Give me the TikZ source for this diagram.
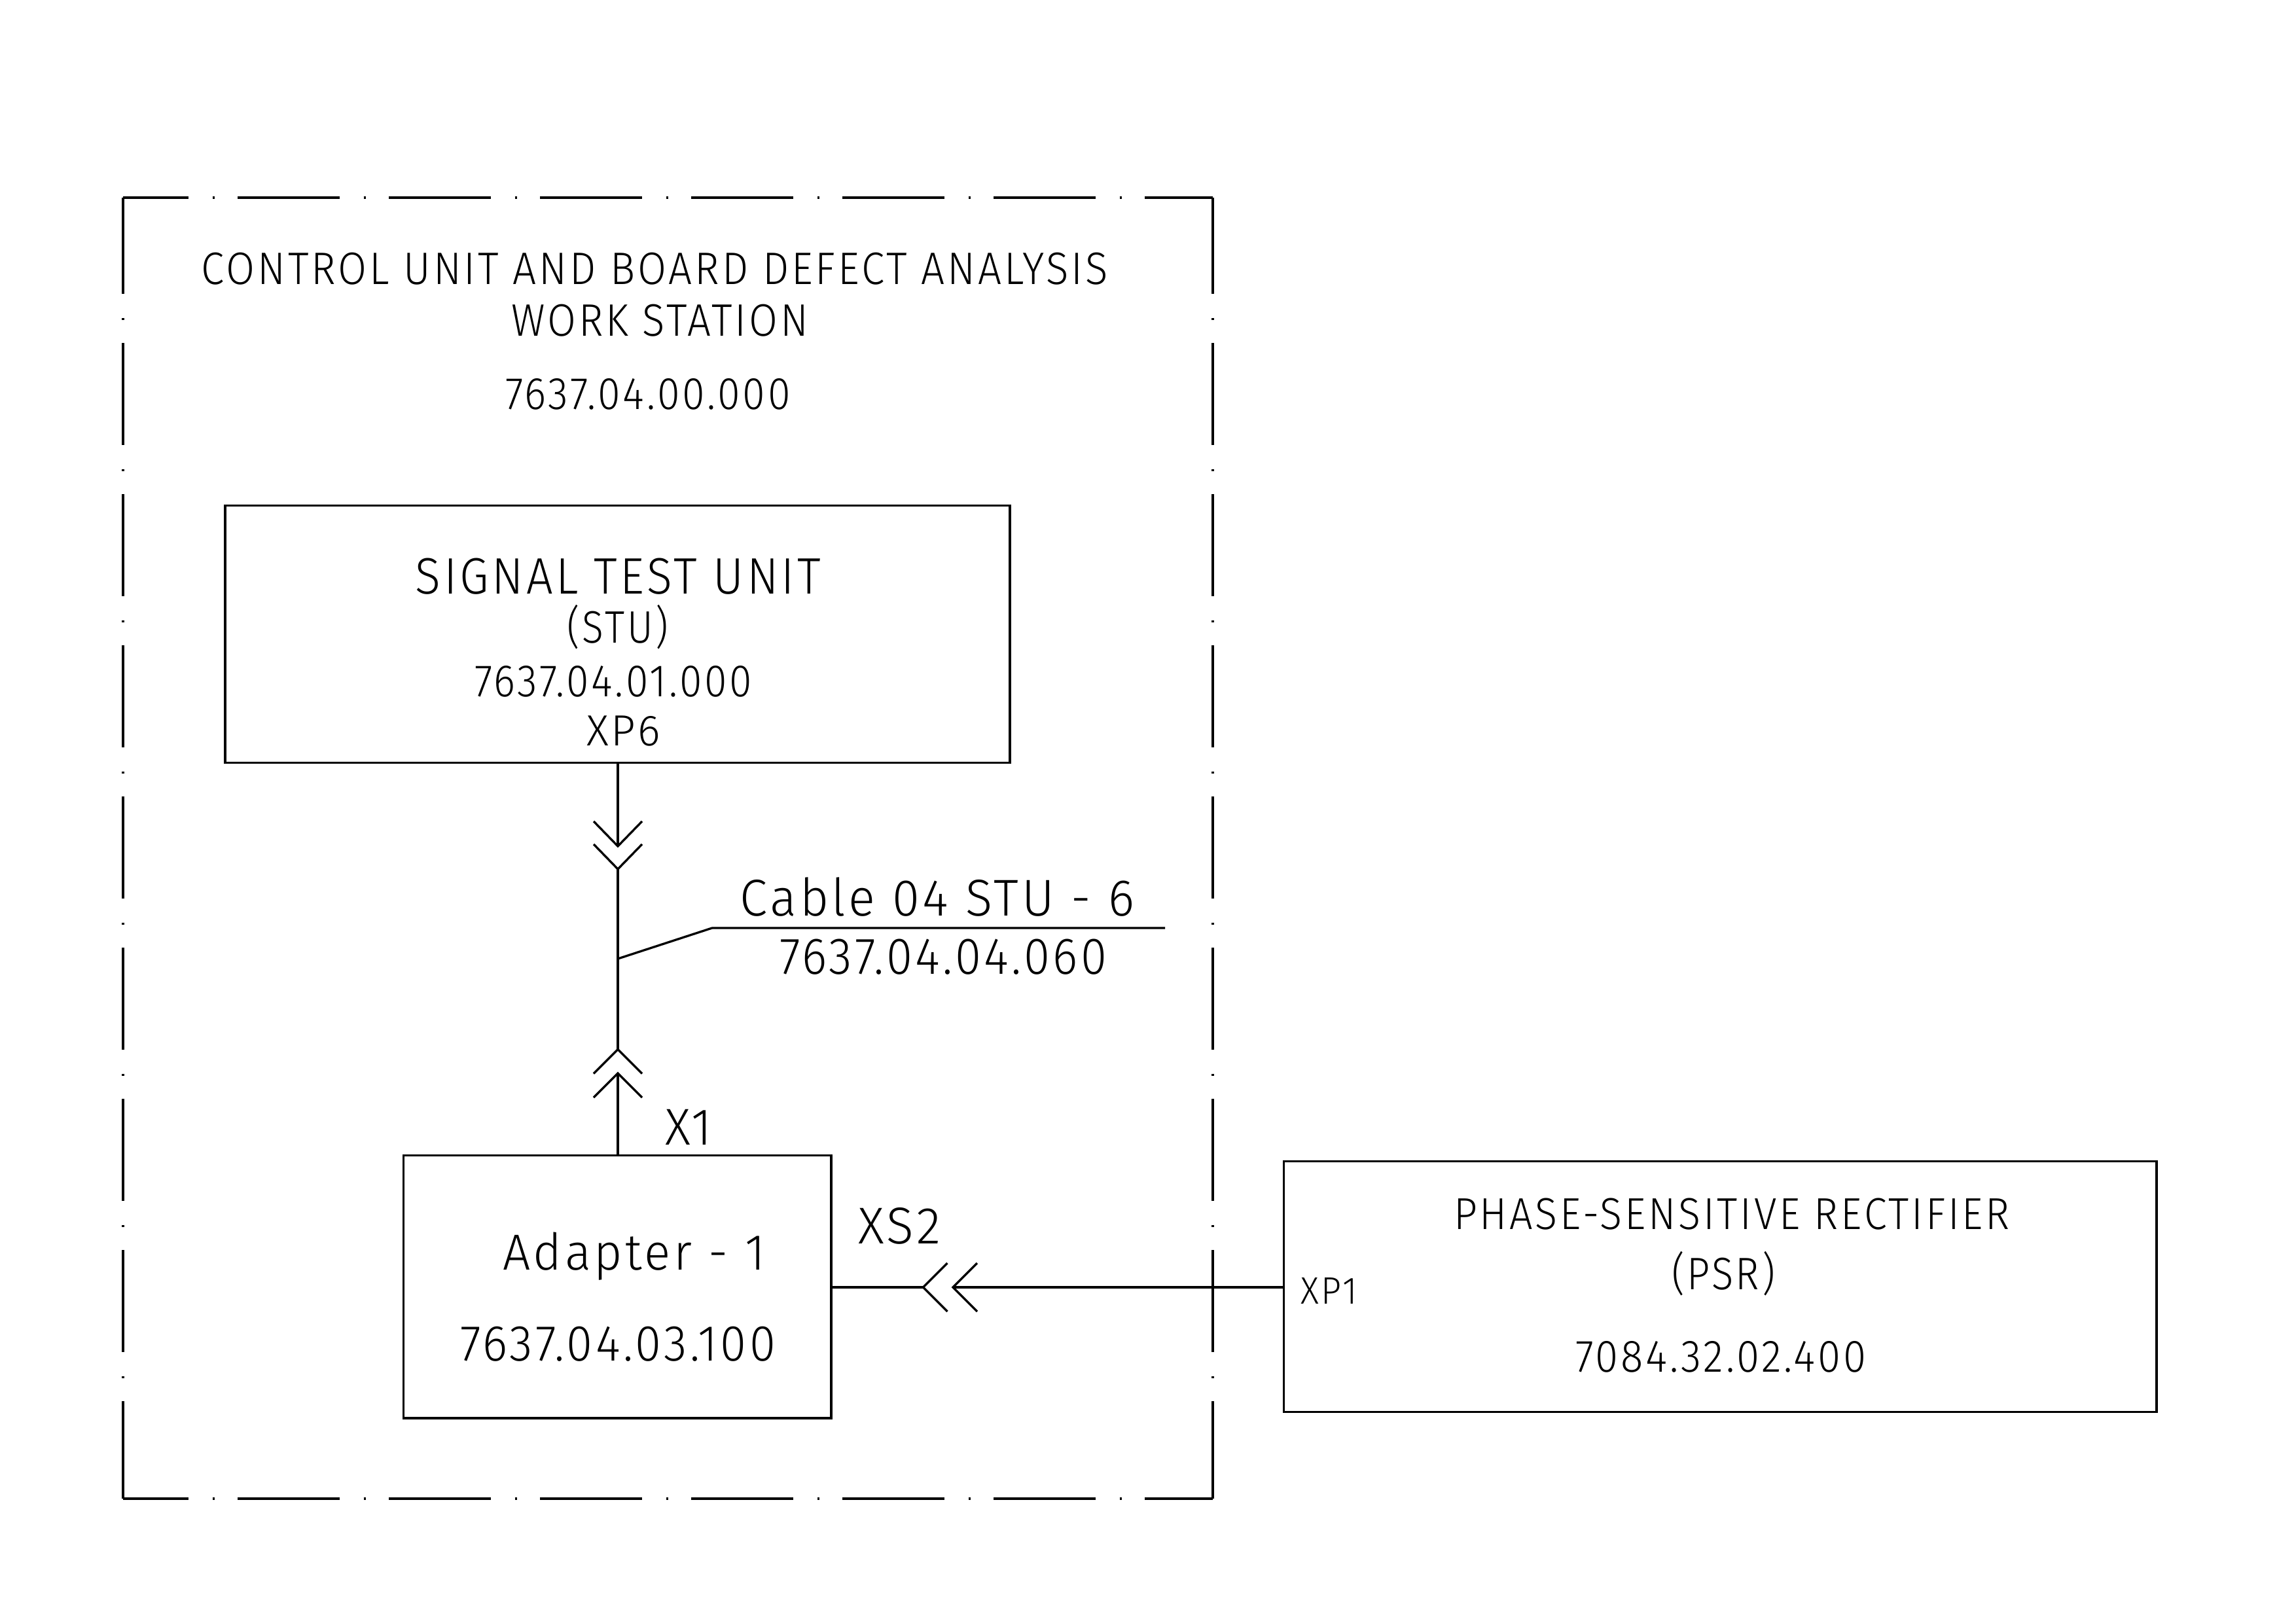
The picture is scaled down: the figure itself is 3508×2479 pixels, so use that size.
\documentclass[tikz,border=0pt]{standalone}
\usepackage{fontspec}
\setmainfont{Fira Sans}[UprightFont=* Light,FakeStretch=0.82,LetterSpace=5]
\tikzset{
  wire/.style={line width=0.8pt},
  framed/.style={wire,dash pattern=on 37.44pt off 8.8pt on 0.8pt off 8.4pt},
  boxed/.style={draw,wire,anchor=north west,inner sep=0pt,outer sep=0pt},
  lbl/.style={anchor=base,inner sep=0pt},
}
\begin{document}
\begin{tikzpicture}
  [x=0.24pt,y=-0.24pt]
  \useasboundingbox (0,0) rectangle (3508,2479);
  % frame
  \coordinate (nw) at (188,302);
  \coordinate (ne) at (1853,302);
  \coordinate (sw) at (188,2290);
  \coordinate (se) at (1853,2290);
  \draw[framed,dash phase=13.44pt] (nw) -- (ne);
  \draw[framed,dash phase=13.44pt] (sw) -- (se);
  \draw[framed,dash phase=2.16pt] (nw) -- (sw);
  \draw[framed,dash phase=2.16pt] (ne) -- (se);
  % boxes
  \node[boxed,minimum width=287.8pt,minimum height=94.3pt] (stu) at (344,772.7) {};
  \node[boxed,minimum width=156.8pt,minimum height=96.4pt] (adapter) at (616.8,1765.3) {};
  \node[boxed,minimum width=320pt,minimum height=91.8pt] (psr) at (1961.7,1774.7) {};
  % texts: name/left/right/baseline/size/text
  \foreach \n/\a/\b/\y/\s/\t in {
    title1/308/1693/434/16.7/CONTROL UNIT AND BOARD DEFECT ANALYSIS,
    title2/781/1235/513/16.7/WORK STATION,
    title3/772/1208/625/16.7/7637.04.00.000,
    stu1/635/1254/907/18.8/SIGNAL TEST UNIT,
    stu2/866/1021/982/16.7/(STU),
    stu3/725/1149/1064/16.7/7637.04.01.000,
    stu4/896/1009/1139/16/XP6,
    cable1/1131/1733/1399/19/Cable 04 STU - 6,
    cable2/1191/1691/1488/19/7637.04.04.060,
    x1/1016/1088/1749/19/X1,
    xs2/1311/1437/1900/19/XS2,
    ad1/768/1169/1940/18.6/Adapter - 1,
    ad2/703/1185/2079/18.6/7637.04.03.100,
    psr1/2221/3071/1878/16.4/PHASE-SENSITIVE RECTIFIER,
    psr2/2554/2712/1970/16.7/(PSR),
    psr3/2407/2851/2096/16.7/7084.32.02.400,
    xp1/1987/2074/1992/14/XP1}
  {
    \pgfmathsetlengthmacro\w{(\b-\a)*0.24pt}
    \node[lbl] (\n) at ({(\a+\b)/2},\y) {\fontsize{\s}{\s}\selectfont\resizebox{\w}{\height}{\t}};
  }
  % connectors
  \coordinate (top) at (944,1165.6);
  \coordinate (tip1) at (944,1293);
  \coordinate (tip2) at (944,1328);
  \coordinate (tip3) at (944,1603.5);
  \coordinate (tip4) at (944,1640);
  \coordinate (bot) at (944,1765.3);
  \coordinate (tip5) at (1410.5,1967);
  \coordinate (tip6) at (1456,1967);
  \coordinate (leadA) at (944,1465);
  \coordinate (leadB) at (1088,1418);
  \coordinate (leadC) at (1780,1418);
  \draw[wire] (top) -- (tip1);
  \draw[wire] (tip2) -- (tip3);
  \draw[wire] (tip4) -- (bot);
  \draw[wire] (leadA) -- (leadB) -- (leadC);
  \draw[wire] (adapter.east |- tip5) -- (tip5);
  \draw[wire] (tip6) -- (psr.west |- tip6);
  \foreach \p in {(tip1),(tip2)}
  \draw[wire] \p +(-37,-38) -- +(0,0) -- +(37,-38);
  \foreach \p in {(tip3),(tip4)}
  \draw[wire] \p +(-37,37) -- +(0,0) -- +(37,37);
  \foreach \p in {(tip5),(tip6)}
  \draw[wire] \p +(37,-37) -- +(0,0) -- +(37,37);
\end{tikzpicture}
\end{document}
